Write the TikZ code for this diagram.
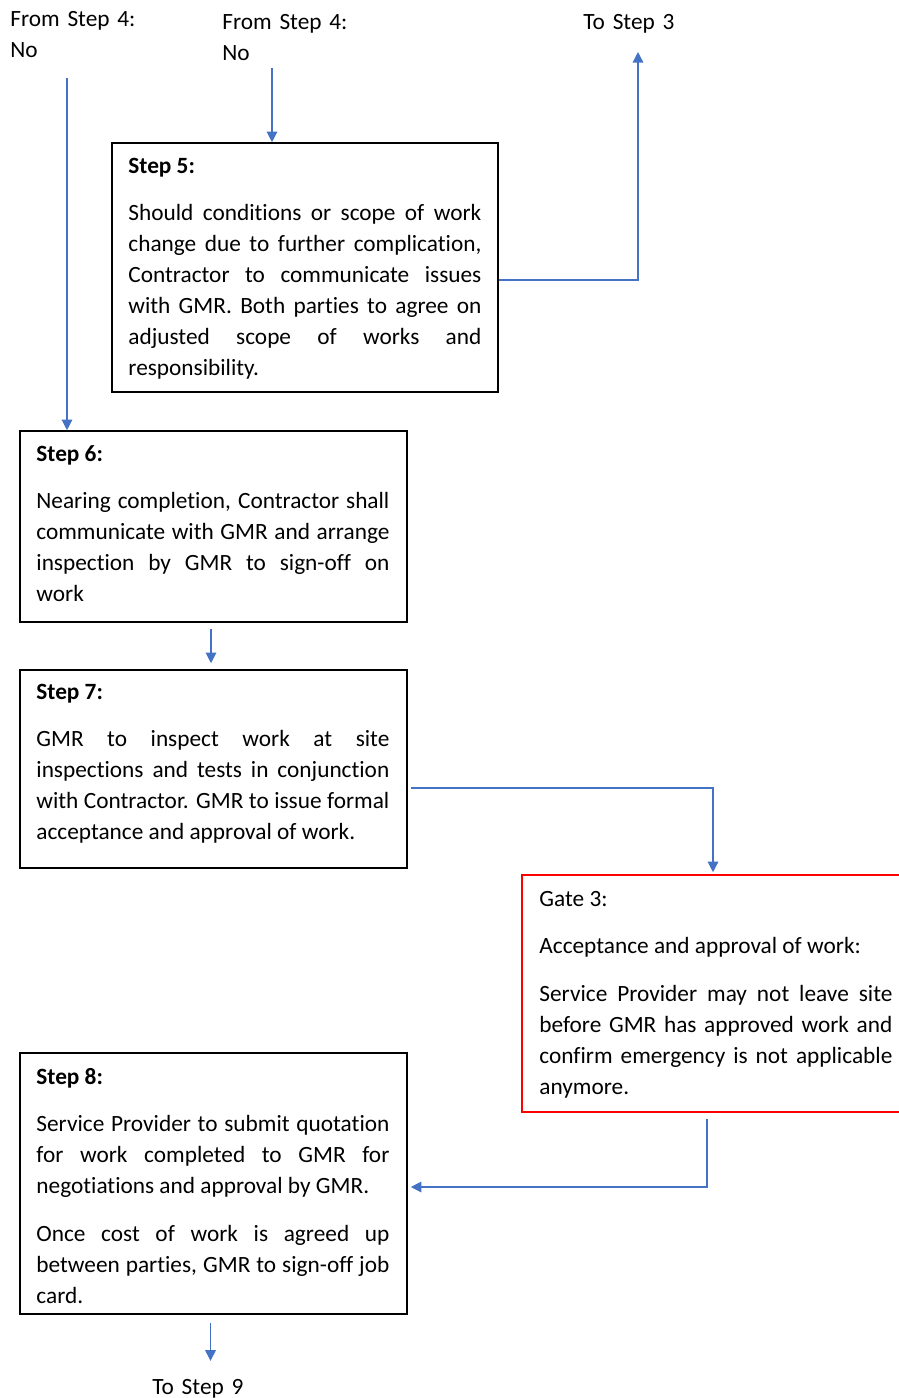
\documentclass[tikz,border=0pt]{standalone}
\usepackage{fontspec}
\setmainfont{Carlito}[Ligatures={NoCommon,NoContextual}]
\usetikzlibrary{arrows.meta,fit}
\definecolor{arrowblue}{HTML}{4472C4}
\definecolor{gatered}{HTML}{FF0000}
\begin{document}
\begin{tikzpicture}[x=0.472pt,y=-0.472pt,
  every node/.style={font=\fontsize{11}{14.63}\selectfont},
  stepbox/.style={draw=black, line width=0.75pt, inner sep=0pt},
  gatebox/.style={draw=gatered, line width=0.75pt, inner sep=0pt},
  txt/.style={inner sep=0pt, anchor=base west, text width=166.6pt, align=justify,
    execute at begin node={\tolerance=10000\setlength{\parskip}{8pt}}},
  lbl/.style={inner sep=0pt, anchor=base west, text width=80pt, align=left},
  conn/.style={draw=arrowblue, line width=0.6pt, -{Triangle[width=5pt,length=5pt]}}
]
\useasboundingbox (0,0) rectangle (899,1398);

% outside labels
\node[lbl] (from4a) at (10,27) {From Step 4:\\No};
\node[lbl] (from4b) at (222,30) {From Step 4:\\No};
\node[lbl] (to3) at (583,30) {To Step 3};
\node[lbl] (to9) at (152,1394) {To Step 9};

% boxes
\node[stepbox, fit={(112,143) (498,392)}] (s5) {};
\node[stepbox, fit={(20,431) (407,622)}] (s6) {};
\node[stepbox, fit={(20,670) (407,868)}] (s7) {};
\node[gatebox, fit={(522,875) (912,1112)}] (g3) {};
\node[stepbox, fit={(20,1053) (407,1314)}] (s8) {};

% box texts
\node[txt] (s5t) at (128,173) {\textbf{Step 5:}\par
Should conditions or scope of work\linebreak
change due to further complication,\linebreak
Contractor to communicate issues\linebreak
with GMR. Both parties to agree on\linebreak
adjusted scope of works and\linebreak
responsibility.};

\node[txt] (s6t) at (36,461) {\textbf{Step 6:}\par
Nearing completion, Contractor shall\linebreak
communicate with GMR and arrange\linebreak
inspection by GMR to sign-off on\linebreak
work};

\node[txt] (s7t) at (36,699) {\textbf{Step 7:}\par
GMR to inspect work at site\linebreak
inspections and tests in conjunction\linebreak
with Contractor. GMR to issue formal\linebreak
acceptance and approval of work.};

\node[txt] (g3t) at (539,906) {Gate 3:\par
Acceptance and approval of work:\par
Service Provider may not leave site\linebreak
before GMR has approved work and\linebreak
confirm emergency is not applicable\linebreak
anymore.};

\node[txt] (s8t) at (36,1084) {\textbf{Step 8:}\par
Service Provider to submit quotation\linebreak
for work completed to GMR for\linebreak
negotiations and approval by GMR.\par
Once cost of work is agreed up\linebreak
between parties, GMR to sign-off job\linebreak
card.};

% connectors
\coordinate (fa) at (67,78);
\coordinate (fb) at (272,68);
\coordinate (t3) at (638,52);
\draw[conn] (fa) -- (fa |- s6.north);
\draw[conn] (fb) -- (fb |- s5.north);
\draw[conn] ([shift={(0,12.5)}]s5.east) -| (t3);
\draw[conn] ([shift={(-2.5,6)}]s6.south) -- ([shift={(-2.5,-6)}]s7.north);
\draw[conn] ([shift={(3,19)}]s7.east) -| ([shift={(-4,-2)}]g3.north);
\draw[conn] ([shift={(-10,6)}]g3.south) |- ([shift={(3,3.5)}]s8.east);
\draw[conn] ([shift={(-3,8)}]s8.south) -- ([shift={(-3,46)}]s8.south);
\end{tikzpicture}
\end{document}
